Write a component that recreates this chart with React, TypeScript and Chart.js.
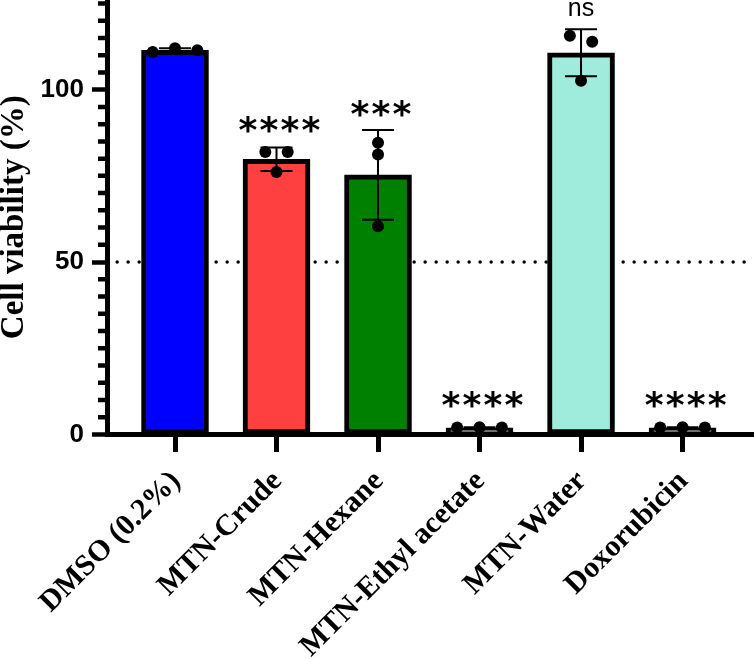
import { useEffect, useRef } from "react";
import { Chart, registerables } from "chart.js";

Chart.register(...registerables);

// groups along the x axis
const groups = [
  "DMSO (0.2%)",
  "MTN-Crude",
  "MTN-Hexane",
  "MTN-Ethyl acetate",
  "MTN-Water",
  "Doxorubicin",
];
const barColors = ["#0000ff", "#ff4040", "#008000", "#ffffff", "#a0ecdc", "#ffffff"];

// cell viability (%), mean and SD per group
const means = [111.4, 79.8, 75.3, 1.9, 110.7, 1.9];
const sds = [0.6, 3.4, 13.0, 0.2, 6.8, 0.2];

// individual replicates and their horizontal spread (in category units)
const replicates = [
  [110.9, 112.0, 111.4],
  [81.9, 81.9, 76.1],
  [84.6, 81.2, 60.4],
  [2.0, 2.1, 2.0],
  [115.6, 113.9, 102.6],
  [2.0, 2.1, 2.0],
];
const jitter = [
  [-0.22, 0, 0.22],
  [-0.11, 0.11, 0],
  [0, 0, 0],
  [-0.22, 0, 0.22],
  [-0.11, 0.11, 0],
  [-0.22, 0, 0.22],
];

const significance = ["", "****", "***", "****", "ns", "****"];

const threshold = 50;
const yMax = 126;
const yMajorStep = 50;
const yMinorStep = 5;
const xMin = -0.665;
const xMax = 5.704;
const thresholdFrom = -0.57;
const thresholdTo = 5.62;

const POINT_RADIUS = 6;

const overlayPlugin = {
  id: "overlay",
  afterDatasetsDraw(chart: any) {
    const { ctx } = chart;
    const x = chart.scales.x;
    const y = chart.scales.y;
    ctx.save();

    // error bars (mean ± SD)
    ctx.strokeStyle = "#000";
    ctx.lineWidth = 2;
    means.forEach((m, i) => {
      const cx = x.getPixelForValue(i);
      const top = y.getPixelForValue(m + sds[i]);
      const bottom = y.getPixelForValue(m - sds[i]);
      ctx.beginPath();
      ctx.moveTo(cx, top);
      ctx.lineTo(cx, bottom);
      ctx.moveTo(cx - 16, top);
      ctx.lineTo(cx + 16, top);
      ctx.moveTo(cx - 16, bottom);
      ctx.lineTo(cx + 16, bottom);
      ctx.stroke();
    });

    // significance marks
    ctx.fillStyle = "#000";
    ctx.textAlign = "center";
    ctx.textBaseline = "alphabetic";
    significance.forEach((label, i) => {
      if (!label) return;
      const cx = x.getPixelForValue(i);
      const capTop = y.getPixelForValue(means[i] + sds[i]);
      const pointTop = y.getPixelForValue(Math.max(...replicates[i])) - POINT_RADIUS;
      const bottom = Math.min(capTop, pointTop) - 13;
      if (label === "ns") {
        ctx.font = "25px 'Liberation Sans'";
        ctx.fillText(label, cx, bottom);
        return;
      }
      ctx.font = "bold 36px 'DejaVu Sans'";
      const m = ctx.measureText("*");
      const base = bottom - m.actualBoundingBoxDescent;
      const n = label.length;
      for (let k = 0; k < n; k++) {
        ctx.fillText("*", cx + 3 + (k - (n - 1) / 2) * 21, base);
      }
    });
    ctx.restore();
  },
  afterDraw(chart: any) {
    // short minor ticks on the y axis
    const { ctx, chartArea } = chart;
    const y = chart.scales.y;
    ctx.save();
    ctx.strokeStyle = "#000";
    ctx.lineWidth = 4.5;
    ctx.beginPath();
    for (let v = yMinorStep; v <= yMax; v += yMinorStep) {
      if (v % yMajorStep === 0) continue;
      const py = y.getPixelForValue(v);
      ctx.moveTo(chartArea.left - 9.5, py);
      ctx.lineTo(chartArea.left - 2, py);
    }
    ctx.stroke();
    ctx.restore();
  },
};

export default function App() {
  const chartRef = useRef<HTMLCanvasElement>(null);

  useEffect(() => {
    const chart = new Chart(chartRef.current!, {
      type: "bar",
      data: {
        datasets: [
          {
            type: "scatter",
            data: replicates.flatMap((vals, i) =>
              vals.map((v, k) => ({ x: i + jitter[i][k], y: v }))
            ),
            backgroundColor: "#000",
            borderWidth: 0,
            pointRadius: POINT_RADIUS,
            order: 1,
          },
          {
            type: "bar",
            data: means.map((m, i) => ({ x: i, y: m })),
            backgroundColor: barColors,
            borderColor: "#000",
            borderWidth: 5,
            borderSkipped: false,
            barThickness: 67,
            order: 2,
          },
          {
            type: "line",
            data: [
              { x: thresholdFrom, y: threshold },
              { x: thresholdTo, y: threshold },
            ],
            borderColor: "#000",
            borderWidth: 3.5,
            borderDash: [0, 11],
            borderCapStyle: "round",
            pointRadius: 0,
            order: 3,
          },
        ] as any,
      },
      options: {
        animation: false,
        responsive: true,
        maintainAspectRatio: false,
        layout: { padding: 0, autoPadding: false },
        plugins: {
          legend: { display: false },
          tooltip: { enabled: false },
        },
        scales: {
          x: {
            type: "linear",
            min: xMin,
            max: xMax,
            offset: false,
            afterFit: (s: any) => {
              s.height = 224.5;
              s.paddingLeft = 0;
              s.paddingRight = 0;
            },
            border: { color: "#000", width: 5 },
            grid: {
              offset: false,
              drawOnChartArea: false,
              tickColor: "#000",
              tickLength: 17.5,
              tickWidth: 5,
            },
            ticks: {
              stepSize: 1,
              includeBounds: false,
              autoSkip: false,
              minRotation: 45,
              maxRotation: 45,
              padding: 12,
              labelOffset: 1,
              color: "#000",
              font: { family: "'Liberation Serif'", weight: "bold", size: 30 },
              callback: (v: any) => groups[v] ?? "",
            },
          },
          y: {
            min: 0,
            max: yMax,
            afterFit: (s: any) => {
              s.width = 107.5;
              s.paddingTop = 0;
              s.paddingBottom = 0;
            },
            border: { color: "#000", width: 5 },
            grid: {
              drawOnChartArea: false,
              tickColor: "#000",
              tickLength: 15.5,
              tickWidth: 4.5,
            },
            ticks: {
              stepSize: yMajorStep,
              includeBounds: false,
              padding: 8,
              color: "#000",
              font: { family: "'Liberation Sans'", weight: "bold", size: 26 },
            },
            title: {
              display: true,
              text: "Cell viability (%)",
              color: "#000",
              padding: 0,
              font: { family: "'Liberation Serif'", weight: "bold", size: 33, lineHeight: 0.88 },
            },
          },
        },
      },
      plugins: [overlayPlugin],
    });

    return () => chart.destroy();
  }, []);

  return (
    <div style={{ position: "absolute", left: 0, top: 0, width: 754, height: 659 }}>
      <canvas ref={chartRef}></canvas>
    </div>
  );
}
